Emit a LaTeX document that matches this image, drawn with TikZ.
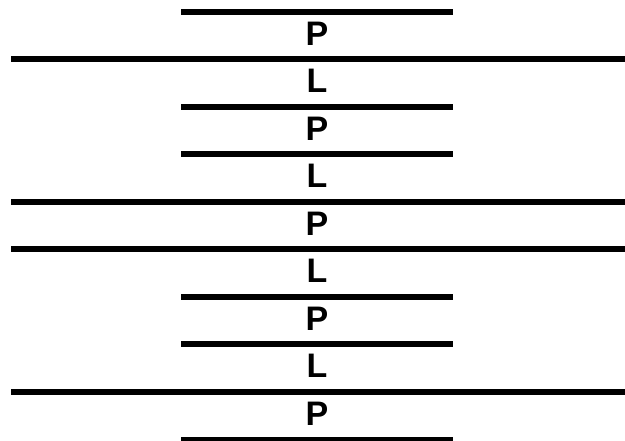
\documentclass[tikz,border=0pt]{standalone}
\usepackage{fontspec}
\setmainfont{Liberation Sans}
\begin{document}
\begin{tikzpicture}[x=1pt,y=-1pt,
  layer/.style={line width=6pt},
  lbl/.style={font=\fontsize{34}{40}\selectfont\bfseries, inner sep=0pt, anchor=center}]
\useasboundingbox (0,0) rectangle (625,441);
% separating strokes: short ones span 181..453, long ones 11..625
\foreach \i in {0,2,3,6,7,9}
  \draw[layer] (181,{12+47.5*\i}) -- (453,{12+47.5*\i});
\foreach \i in {1,4,5,8}
  \draw[layer] (11,{12+47.5*\i}) -- (625,{12+47.5*\i});
% layer labels
\foreach \t [count=\k from 0] in {P,L,P,L,P,L,P,L,P}
  \node[lbl] (t\k) at (317,{33.5+47.5*\k}) {\t};
\end{tikzpicture}
\end{document}
